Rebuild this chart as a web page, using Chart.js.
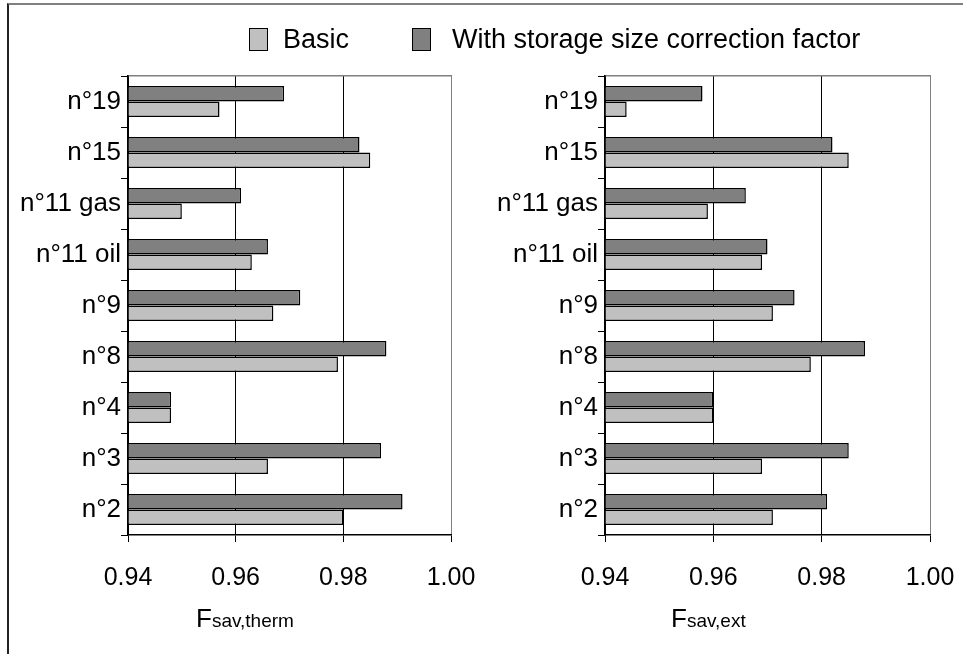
<!DOCTYPE html>
<html>
<head>
<meta charset="utf-8">
<script src="https://cdn.jsdelivr.net/npm/chart.js@4/dist/chart.umd.min.js"></script>
<style>
  html, body { margin: 0; padding: 0; background: #fff; }
  body { width: 963px; height: 654px; position: relative; overflow: hidden; font-family: "Liberation Sans", Arial, sans-serif; color: #000; }
  #frame { position: absolute; left: 7px; top: 3px; width: 1000px; height: 700px; border-top: 2px solid #808080; border-left: 2px solid #222; box-sizing: border-box; }
  canvas { position: absolute; top: 0; }
  #c1 { left: 0; }
  #c2 { left: 475px; }
  .sw { position: absolute; top: 28px; width: 19px; height: 23px; border: 1px solid #000; box-sizing: border-box; }
  .lt { position: absolute; top: 24px; font-size: 27px; line-height: 31px; white-space: nowrap; }
  .atitle { position: absolute; top: 603px; font-size: 26px; white-space: nowrap; }
  .atitle span { font-size: 19px; }
</style>
</head>
<body>
<div id="frame"></div>
<canvas id="c1" width="475" height="654"></canvas>
<canvas id="c2" width="488" height="654"></canvas>
<span class="sw" id="sw1" style="left:249px"></span><span class="lt" id="lt1" style="left:283px"></span>
<span class="sw" id="sw2" style="left:412px"></span><span class="lt" id="lt2" style="left:452px"></span>
<div class="atitle" style="left:196px">F<span>sav,therm</span></div>
<div class="atitle" style="left:671px">F<span>sav,ext</span></div>
<script>
const categories = ['n°19', 'n°15', 'n°11 gas', 'n°11 oil', 'n°9', 'n°8', 'n°4', 'n°3', 'n°2'];
const seriesNames = ['Basic', 'With storage size correction factor'];
const thermBasic = [0.957, 0.985, 0.950, 0.963, 0.967, 0.979, 0.948, 0.966, 0.980];
const thermCorr  = [0.969, 0.983, 0.961, 0.966, 0.972, 0.988, 0.948, 0.987, 0.991];
const extBasic   = [0.944, 0.985, 0.959, 0.969, 0.971, 0.978, 0.960, 0.969, 0.971];
const extCorr    = [0.958, 0.982, 0.966, 0.970, 0.975, 0.988, 0.960, 0.985, 0.981];
const xTicks = [0.94, 0.96, 0.98, 1.00];

const LIGHT = '#c0c0c0', DARK = '#808080';
const FONT = '"Liberation Sans", Arial, sans-serif';

document.getElementById('sw1').style.background = LIGHT;
document.getElementById('sw2').style.background = DARK;
document.getElementById('lt1').textContent = seriesNames[0];
document.getElementById('lt2').textContent = seriesNames[1];

function makeChart(id, basic, corr, yWidth, padRight) {
  return new Chart(document.getElementById(id), {
    type: 'bar',
    data: {
      labels: categories,
      datasets: [
        { label: seriesNames[1], data: corr, backgroundColor: DARK, borderColor: '#000', borderWidth: 1.5, base: xTicks[0] },
        { label: seriesNames[0], data: basic, backgroundColor: LIGHT, borderColor: '#000', borderWidth: 1.5, base: xTicks[0] }
      ]
    },
    options: {
      indexAxis: 'y',
      responsive: false,
      animation: false,
      categoryPercentage: 0.61,
      barPercentage: 1.0,
      layout: { padding: { top: 76, right: padRight, bottom: 59, left: 0 } },
      plugins: { legend: { display: false }, tooltip: { enabled: false } },
      scales: {
        x: {
          type: 'linear',
          position: 'bottom',
          min: xTicks[0],
          max: xTicks[xTicks.length - 1],
          afterBuildTicks: s => { s.ticks = xTicks.map(v => ({ value: v })); },
          afterFit: s => { s.height = 60; s.paddingLeft = 0; s.paddingRight = 0; },
          border: { color: '#000', width: 1.5 },
          grid: {
            color: c => (c.tick && Math.abs(c.tick.value - 1) < 1e-9) ? '#808080' : '#000',
            lineWidth: 1,
            tickLength: 7,
            tickColor: '#000'
          },
          ticks: {
            font: { family: FONT, size: 25 },
            color: '#000',
            padding: 21,
            callback: v => Number(v).toFixed(2)
          }
        },
        x2: {
          type: 'linear',
          position: 'top',
          min: xTicks[0],
          max: xTicks[xTicks.length - 1],
          afterFit: s => { s.paddingLeft = 0; s.paddingRight = 0; },
          border: { color: '#808080', width: 1.5 },
          grid: { drawOnChartArea: false, drawTicks: false },
          ticks: { display: false }
        },
        y: {
          type: 'category',
          afterFit: s => { s.width = yWidth; s.paddingTop = 0; s.paddingBottom = 0; },
          border: { color: '#000', width: 1.5 },
          grid: { drawOnChartArea: false, drawTicks: true, tickLength: 7, color: '#000', offset: true },
          ticks: { font: { family: FONT, size: 26 }, color: '#000', padding: 0 }
        }
      }
    }
  });
}

makeChart('c1', thermBasic, thermCorr, 128, 24);
makeChart('c2', extBasic, extCorr, 130, 33);
</script>
</body>
</html>
